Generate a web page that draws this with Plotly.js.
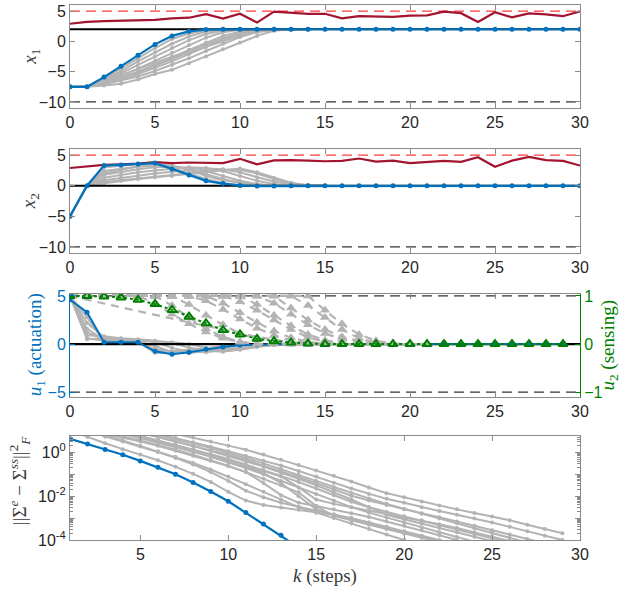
<!DOCTYPE html>
<html><head><meta charset="utf-8">
<script src="https://cdn.plot.ly/plotly-3.0.1.min.js"></script>
<style>html,body{margin:0;padding:0;background:#fff}#chart{width:623px;height:592px}</style>
</head><body><div id="chart"></div>
<script>
// ---------- data ----------
const steps = [0,1,2,3,4,5,6,7,8,9,10,11,12,13,14,15,16,17,18,19,20,21,22,23,24,25,26,27,28,29,30];

// panel 1 : x1
const x1Target = 2, x1Upper = 5, x1Lower = -10;
const x1Blue = [-7.5,-7.5,-5.9,-4.1,-2.3,-0.5,0.9,1.65,1.95,2,2,2,2,2,2,2,2,2,2,2,2,2,2,2,2,2,2,2,2,2,2];
const x1Red  = [2.9,3.2,3.35,3.45,3.55,3.55,3.8,3.9,4.5,3.75,4.55,3.1,4.9,4.7,4.55,4.55,3.8,4.15,4.1,4.05,4.25,4.3,4.9,4.65,3.2,4.8,3.95,4.6,4.45,4.15,4.95];
const x1Gray1 = [-7.5,-7.5,-6.1,-4.5,-2.8,-1.1,0.4,1.3,1.8,2,2,2,2,2,2];
const x1Gray2 = [-7.5,-7.5,-6.3,-4.9,-3.3,-1.8,-0.4,0.8,1.6,1.95,2,2,2,2,2];
const x1Gray3 = [-7.5,-7.5,-6.5,-5.3,-3.9,-2.5,-1.1,0.2,1.2,1.8,2,2,2,2,2];
const x1Gray4 = [-7.5,-7.5,-6.7,-5.7,-4.5,-3.2,-1.9,-0.6,0.6,1.5,1.9,2,2,2,2];
const x1Gray5 = [-7.5,-7.5,-6.8,-6.0,-5.0,-3.9,-2.7,-1.4,-0.2,0.9,1.6,1.95,2,2,2];
const x1Gray6 = [-7.5,-7.5,-7.0,-6.3,-5.4,-4.4,-3.3,-2.1,-0.9,0.3,1.2,1.8,2,2,2];
const x1Gray7 = [-7.5,-7.5,-7.1,-6.5,-5.8,-4.9,-3.9,-2.8,-1.6,-0.4,0.7,1.5,1.9,2,2];
const x1Gray8 = [-7.5,-7.5,-7.3,-7.0,-6.3,-5.4,-4.7,-3.6,-2.5,-1.3,-0.2,0.9,1.75,2,2];
const x1Gray9 = [-7.5,-7.5,-6.9,-6.1,-5.1,-4.0,-2.8,-1.8,-0.9,0.0,0.9,1.6,1.95,2,2];
const x1Gray10 = [-7.5,-7.5,-6.6,-5.6,-4.6,-3.6,-2.5,-1.5,-0.5,0.5,1.3,1.85,2,2,2];

// panel 2 : x2
const x2Target = 0, x2Upper = 5, x2Lower = -10;
const x2Blue = [-5,0,3.3,3.4,3.55,3.7,2.75,1.75,0.8,0.35,0.05,-0.05,-0.05,0,0,0,0,0,0,0,0,0,0,0,0,0,0,0,0,0,0];
const x2Red  = [2.9,3.2,3.4,3.5,3.6,3.85,3.7,3.8,3.7,3.7,4.4,3.5,4.15,4.2,4.1,4.0,4.05,4.45,3.95,4.1,3.7,3.85,4.05,3.9,4.65,3.1,4.1,4.7,4.2,4.05,3.3];
const x2Gray1 = [-5,0,3.0,3.3,3.5,3.4,2.9,2.0,1.1,0.45,0.1,0,0,0,0,0];
const x2Gray2 = [-5,0,2.4,2.8,3.1,3.3,3.2,2.7,1.9,1.1,0.45,0.1,0,0,0,0];
const x2Gray3 = [-5,0,1.8,2.3,2.7,3.0,3.1,2.9,2.4,1.6,0.8,0.3,0.05,0,0,0];
const x2Gray4 = [-5,0,1.3,1.8,2.2,2.5,2.8,3.0,2.9,2.4,1.6,0.8,0.3,0.05,0,0];
const x2Gray5 = [-5,0,0.9,1.3,1.7,2.0,2.3,2.6,2.8,2.7,2.2,1.4,0.7,0.2,0,0];
const x2Gray6 = [-5,0,0.6,0.9,1.2,1.5,1.8,2.1,2.4,2.6,2.6,2.0,1.1,0.4,0.05,0];
const x2Gray7 = [-5,0,0.4,0.8,1.1,1.4,1.6,1.9,2.2,2.5,2.8,2.2,1.3,0.5,0.1,0];
const x2Gray8 = [-5,0,2.0,2.6,3.2,3.5,3.3,2.6,1.6,0.9,0.5,0.2,0,0,0,0];

// panel 3 : inputs
const u1Limit = 5, u1Zero = 0;
const u1Blue = [4.6,3.3,0.2,0.2,0.2,-0.75,-1.05,-0.85,-0.55,-0.3,-0.1,-0.05,0,0,0,0,0,0,0,0,0,0,0,0,0,0,0,0,0,0];
const u2Green = [1,1,0.99,0.97,0.92,0.83,0.71,0.57,0.43,0.29,0.2,0.11,0.06,0.03,0.01,0,0,0,0,0,0,0,0,0,0,0,0,0,0,0];
const u1Gray1 = [5,0.6,0.35,0.3,0.15,-0.5,-0.75,-0.6,-0.4,-0.2,-0.05,0,0,0,0];
const u1Gray2 = [5,1.2,0.5,0.4,0.3,-0.2,-0.85,-0.95,-0.7,-0.4,-0.15,-0.05,0,0,0];
const u1Gray3 = [5,2.2,0.7,0.5,0.4,0.2,-0.4,-0.8,-0.85,-0.6,-0.3,-0.1,0,0,0];
const u1Gray4 = [5,0.9,0.8,0.6,0.5,0.35,0.1,-0.35,-0.7,-0.8,-0.55,-0.25,-0.05,0,0];
const u1Gray5 = [5,1.6,0.4,0.25,0.2,-0.9,-0.95,-0.7,-0.45,-0.25,-0.1,0,0,0,0];
const u1Gray6 = [5,2.8,0.3,0.25,0.15,-0.6,-1.0,-0.8,-0.5,-0.25,-0.1,0,0,0,0];
const u1Gray7 = [5,0.5,0.6,0.55,0.45,0.3,0.2,0.0,-0.4,-0.75,-0.6,-0.3,-0.1,0,0];
const u2Gray0  = [1,0.92,0.84,0.76,0.68,0.6,0.52,0.45,0.38,0.3,0.22,0.15,0.09,0.04,0.01,0,0,0,0,0,0,0];
const u2Gray1  = [1,1,1,1,1,0.85,0.62,0.42,0.25,0.12,0.04,0,0,0,0,0,0,0,0,0,0,0];
const u2Gray2  = [1,1,1,1,1,1,0.8,0.55,0.32,0.15,0.05,0,0,0,0,0,0,0,0,0,0,0];
const u2Gray3  = [1,1,1,1,1,1,1,0.82,0.6,0.4,0.22,0.1,0.03,0,0,0,0,0,0,0,0,0];
const u2Gray4  = [1,1,1,1,1,1,1,1,0.9,0.72,0.52,0.33,0.18,0.07,0.02,0,0,0,0,0,0,0];
const u2Gray5  = [1,1,1,1,1,1,1,1,1,0.85,0.65,0.45,0.27,0.13,0.05,0,0,0,0,0,0,0];
const u2Gray6  = [1,1,1,1,1,1,1,1,1,1,0.88,0.7,0.5,0.3,0.14,0.05,0,0,0,0,0,0];
const u2Gray7  = [1,1,1,1,1,1,1,1,1,1,1,0.82,0.6,0.38,0.2,0.08,0.02,0,0,0,0,0];
const u2Gray8  = [1,1,1,1,1,1,1,1,1,1,1,1,0.85,0.62,0.4,0.22,0.1,0.03,0,0,0,0];
const u2Gray9  = [1,1,1,1,1,1,1,1,1,1,1,1,1,0.75,0.5,0.3,0.15,0.06,0,0,0,0];
const u2Gray10 = [1,1,1,1,1,1,1,1,1,1,1,1,1,1,0.8,0.55,0.3,0.12,0.03,0,0,0];
const u2Gray11 = [1,1,1,1,1,1,1,1,1,1,1,1,1,1,1,0.7,0.42,0.2,0.07,0.01,0,0];

// panel 4 : ||Sigma^e - Sigma^ss||_F^2  (first step of each series in *Start)
const sigBlueStart = 1;
const sigBlue = [4.2,2.4,1.37,0.78,0.41,0.21,0.10,0.042,0.0165,0.0059,0.0018,0.00054,0.000166,0.000045];
const sigGrayStart = [7,6,5,4,4,3,1,2,5,3,6,4,3,5];
const sigGray1 = [7.08,4.79,3.16,2.04,1.32,0.794,0.457,0.263,0.151,0.0851,0.0468,0.0251,0.0138,0.00891,0.00575,0.0038,0.00251,0.0017,0.00117,0.000794,0.000501,0.000316,0.000204];
const sigGray2 = [7.08,4.57,2.88,1.82,1.12,0.692,0.417,0.251,0.141,0.0794,0.0417,0.0224,0.0126,0.00759,0.00501,0.00316,0.00209,0.00141,0.000955,0.000631,0.000398,0.000251,0.000158,0.0001];
const sigGray3 = [7.94,5.01,3.16,2.0,1.26,0.759,0.447,0.251,0.141,0.0759,0.0398,0.02,0.0105,0.00631,0.00398,0.00251,0.00166,0.0011,0.000708,0.000447,0.000282,0.000178,0.000112,0.0000708];
const sigGray4 = [8.91,5.62,3.55,2.24,1.41,0.832,0.501,0.282,0.158,0.0851,0.0447,0.0224,0.0112,0.00562,0.00316,0.00191,0.0012,0.000759,0.000479,0.000302,0.000191,0.00012,0.0000759];
const sigGray5 = [7.08,4.47,2.82,1.78,1.1,0.661,0.398,0.24,0.141,0.0794,0.0251,0.00708,0.00447,0.00316,0.00224,0.00158,0.00112,0.000794,0.000525,0.000355,0.000224,0.000141,0.0000891];
const sigGray6 = [7.08,4.79,3.16,2.0,1.2,0.708,0.417,0.24,0.126,0.0398,0.0112,0.00501,0.00355,0.00251,0.00166,0.00112,0.000708,0.000447,0.000282,0.000166,0.0001];
const sigGray7 = [10,5.01,2.63,1.41,0.794,0.437,0.219,0.105,0.0447,0.0158,0.00631,0.00398,0.00302,0.0024,0.00191,0.00141,0.001,0.000631,0.000398,0.000251,0.000158,0.0001,0.0000631];
const sigGray8 = [10,5.25,3.16,1.86,1.05,0.562,0.282,0.126,0.0501,0.0178,0.00891,0.00501,0.00331,0.00224,0.00151,0.001,0.000631,0.00038,0.000224,0.000132,0.0000794,0.0000501];
const sigGray9 = [7.94,5.25,3.31,2.0,1.2,0.708,0.398,0.224,0.12,0.0631,0.0316,0.0151,0.00708,0.00316,0.00141,0.000891,0.000562,0.000355,0.000224,0.000141,0.0000891];
const sigGray10 = [8.91,5.62,3.55,2.24,1.32,0.794,0.447,0.24,0.126,0.0631,0.0316,0.0151,0.00355,0.00126,0.000794,0.000501,0.000316,0.0002,0.000126,0.0000794];
const sigGray11 = [6.31,4.17,2.63,1.58,0.955,0.55,0.316,0.174,0.0955,0.0501,0.0263,0.0141,0.00794,0.00447,0.00263,0.00158,0.000955,0.000575,0.000347,0.000209,0.000126,0.0000759];
const sigGray12 = [7.94,5.01,3.16,1.91,1.12,0.631,0.355,0.191,0.1,0.0501,0.0251,0.0126,0.00631,0.00316,0.00178,0.00105,0.000631,0.00038,0.000229,0.000138,0.0000832];
const sigGray13 = [6.31,3.55,2.0,1.12,0.631,0.331,0.166,0.0794,0.0355,0.0158,0.00708,0.00316,0.00178,0.001,0.000562,0.000316,0.000178,0.0001,0.0000562];
const sigGray14 = [5.62,3.55,2.24,1.32,0.759,0.417,0.224,0.112,0.0398,0.01,0.00251,0.00141,0.000891,0.000562,0.000355,0.000224,0.000141,0.0000891];

// tick labels and titles
const linTicks = [0,5,10,15,20,25,30];
const logXTicks = [5,10,15,20,25,30];
const xStateTicks = [-10,-5,0,5];
const u1Ticks = [-5,0,5];
const u2Ticks = [-1,0,1];
const logYTicks = [1e-4,1e-3,1e-2,1e-1,1];
const logYText = ['10<sup>-4</sup>','','10<sup>-2</sup>','','10<sup>0</sup>'];
const logYMinor = [2e-4,3e-4,4e-4,5e-4,6e-4,7e-4,8e-4,9e-4,2e-3,3e-3,4e-3,5e-3,6e-3,7e-3,8e-3,9e-3,2e-2,3e-2,4e-2,5e-2,6e-2,7e-2,8e-2,9e-2,0.2,0.3,0.4,0.5,0.6,0.7,0.8,0.9,2,3,4,5];
const titleX1 = '<i>x</i><sub>1</sub>';
const titleX2 = '<i>x</i><sub>2</sub>';
const titleU1 = '<i>u</i><sub>1</sub> (actuation)';
const titleU2 = '<i>u</i><sub>2</sub> (sensing)';
const titleSig = '||Σ<sup><i>e</i></sup> − Σ<sup><i>ss</i></sup>||<sup>2</sup><sub><i>F</i></sub>';
const titleK = '<i>k</i> (steps)';

// ---------- styling ----------
const BLUE='#0072BD', RED='#A2142F', REDD='#ff3b3b', GRAY='#b3b3b3', GREEN='#008000', FRAME='#8a8a8a', TXT='#262626';
const ks = n => steps.slice(0, n);
const ksFrom = (s, n) => steps.slice(s, s + n);

const traces = [];
function line(xa, ya, xr, yr, color, width, dash, mode, msym, msize, mline){
  const t = {x: xa, y: ya, xaxis: xr, yaxis: yr, mode: mode || 'lines', type: 'scatter',
    line: {color: color, width: width, dash: dash || 'solid'}, hoverinfo: 'skip', showlegend: false};
  if (mode && mode.indexOf('markers') >= 0) {
    t.marker = {symbol: msym || 'circle', size: msize || 4, color: color};
    if (mline) t.marker.line = {color: color, width: mline};
  }
  traces.push(t);
}
const DASHK = '10px,6px';

// panel 1
[x1Gray1,x1Gray2,x1Gray3,x1Gray4,x1Gray5,x1Gray6,x1Gray7,x1Gray8,x1Gray9,x1Gray10].forEach(g =>
  line(ks(g.length), g, 'x', 'y', GRAY, 2, 'solid', 'lines+markers', 'circle', 4));
line([steps[0], steps[30]], [x1Upper, x1Upper], 'x', 'y', REDD, 1.2, DASHK);
line([steps[0], steps[30]], [x1Lower, x1Lower], 'x', 'y', '#333', 1.3, DASHK);
line([steps[0], steps[30]], [x1Target, x1Target], 'x', 'y', '#000', 2.2);
line(ks(x1Red.length), x1Red, 'x', 'y', RED, 2.2);
line(ks(x1Blue.length), x1Blue, 'x', 'y', BLUE, 2.2, 'solid', 'lines+markers', 'circle', 5);

// panel 2
[x2Gray1,x2Gray2,x2Gray3,x2Gray4,x2Gray5,x2Gray6,x2Gray7,x2Gray8].forEach(g =>
  line(ks(g.length), g, 'x2', 'y2', GRAY, 2, 'solid', 'lines+markers', 'circle', 4));
line([steps[0], steps[30]], [x2Upper, x2Upper], 'x2', 'y2', REDD, 1.2, DASHK);
line([steps[0], steps[30]], [x2Lower, x2Lower], 'x2', 'y2', '#333', 1.3, DASHK);
line([steps[0], steps[30]], [x2Target, x2Target], 'x2', 'y2', '#000', 2.2);
line(ks(x2Red.length), x2Red, 'x2', 'y2', RED, 2.2);
line(ks(x2Blue.length), x2Blue, 'x2', 'y2', BLUE, 2.2, 'solid', 'lines+markers', 'circle', 5);

// panel 3
line([steps[0], steps[30]], [u1Limit, u1Limit], 'x3', 'y3', '#333', 1.3, DASHK);
line([steps[0], steps[30]], [-u1Limit, -u1Limit], 'x3', 'y3', '#333', 1.3, DASHK);
[u1Gray1,u1Gray2,u1Gray3,u1Gray4,u1Gray5,u1Gray6,u1Gray7].forEach(g =>
  line(ks(g.length), g, 'x3', 'y3', GRAY, 2, 'solid', 'lines+markers', 'circle', 4));
[u2Gray0,u2Gray1,u2Gray2,u2Gray3,u2Gray4,u2Gray5,u2Gray6,u2Gray7,u2Gray8,u2Gray9,u2Gray10,u2Gray11].forEach((g, i) =>
  line(ks(g.length), g, 'x3', 'y5', GRAY, 2.2, '8px,6px', i === 0 ? 'lines' : 'lines+markers', 'triangle-up', 9));
line([steps[0], steps[30]], [u1Zero, u1Zero], 'x3', 'y3', '#000', 2.2);
line(ks(u1Blue.length), u1Blue, 'x3', 'y3', BLUE, 2, 'solid', 'lines+markers', 'circle', 5);
line(ks(u2Green.length), u2Green, 'x3', 'y5', GREEN, 2, '3px,3px', 'lines+markers', 'triangle-up-open', 8, 2);

// panel 4
[sigGray1,sigGray2,sigGray3,sigGray4,sigGray5,sigGray6,sigGray7,sigGray8,sigGray9,sigGray10,sigGray11,sigGray12,sigGray13,sigGray14].forEach((g, i) =>
  line(ksFrom(sigGrayStart[i], g.length), g, 'x4', 'y4', GRAY, 2, 'solid', 'lines+markers', 'circle', 4));
line(ksFrom(sigBlueStart, sigBlue.length), sigBlue, 'x4', 'y4', BLUE, 2.2, 'solid', 'lines+markers', 'circle', 5);

// ---------- layout ----------
const tf = {family: 'Liberation Sans, Arial, sans-serif', size: 16, color: TXT};
const ttl = {family: 'Liberation Serif, Times New Roman, serif', size: 19, color: '#3a3a3a'};
function xax(anchor, range, ticks){
  return {anchor: anchor, domain: [0,1], range: range, tickvals: ticks, ticks: 'inside', ticklen: 5, tickcolor: FRAME,
    showline: true, linecolor: FRAME, linewidth: 1, mirror: 'ticks', showgrid: false, zeroline: false, tickfont: tf};
}
function yax(anchor, dom, range, ticks){
  return {anchor: anchor, domain: dom, range: range, tickvals: ticks, ticks: 'inside', ticklen: 5, tickcolor: FRAME,
    showline: true, linecolor: FRAME, linewidth: 1, mirror: 'ticks', showgrid: false, zeroline: false, tickfont: tf};
}
function vtitle(text, x, y, color){
  return {text: text, xref: 'paper', yref: 'paper', x: x, y: y, xanchor: 'center', yanchor: 'middle',
    textangle: -90, showarrow: false, font: Object.assign({}, ttl, {color: color || ttl.color})};
}
const layout = {
  width: 623, height: 592, paper_bgcolor: '#fff', plot_bgcolor: '#fff',
  margin: {l: 70, r: 43, t: 5, b: 52}, showlegend: false,
  xaxis: xax('y', [0,30], linTicks),
  yaxis: yax('x', [0.8075, 1], [-11, 6], xStateTicks),
  xaxis2: xax('y2', [0,30], linTicks),
  yaxis2: yax('x2', [0.5364, 0.7308], [-11, 6], xStateTicks),
  xaxis3: xax('y3', [0,30], linTicks),
  yaxis3: Object.assign(yax('x3', [0.2673, 0.4598], [-5.5, 5.2], u1Ticks),
    {mirror: false, linecolor: BLUE, tickcolor: BLUE, tickfont: Object.assign({}, tf, {color: BLUE})}),
  yaxis5: {overlaying: 'y3', side: 'right', anchor: 'x3', range: [-1.1, 1.04], tickvals: u2Ticks, ticks: 'inside', ticklen: 5,
    tickcolor: GREEN, showline: true, linecolor: GREEN, linewidth: 1, showgrid: false, zeroline: false,
    tickfont: Object.assign({}, tf, {color: GREEN})},
  xaxis4: Object.assign(xax('y4', [1,30], logXTicks), {title: {text: titleK, font: ttl, standoff: 6}}),
  yaxis4: Object.assign(yax('x4', [0, 0.1944], [-4, 0.75], logYTicks),
    {type: 'log', ticktext: logYText, tickmode: 'array',
     minor: {tickmode: 'array', tickvals: logYMinor, ticks: 'inside', ticklen: 3, tickcolor: FRAME}}),
  annotations: [
    vtitle(titleX1, -0.078, 0.9037),
    vtitle(titleX2, -0.078, 0.6336),
    vtitle(titleU1, -0.066, 0.3645, BLUE),
    vtitle(titleU2, 1.056, 0.3645, GREEN),
    vtitle(titleSig, -0.100, 0.110)
  ]
};

Plotly.newPlot('chart', traces, layout, {staticPlot: true, displayModeBar: false});
</script>
</body></html>
